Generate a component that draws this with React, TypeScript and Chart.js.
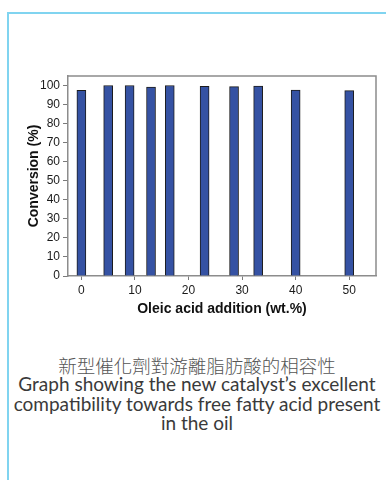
import React, { useEffect, useRef } from "react";
import { Chart, registerables } from "chart.js";

Chart.register(...registerables);

// Oleic acid addition (wt.%) for each run and the conversion it reached (%)
const oleicAcid = [0, 5, 9, 13, 16.5, 23, 28.5, 33, 40, 50];
const conversion = [97.5, 100, 100, 99.2, 100, 99.6, 99.4, 99.7, 97.6, 97.3];

const xTicks = [0, 10, 20, 30, 40, 50];
const yTicks = [0, 10, 20, 30, 40, 50, 60, 70, 80, 90, 100];

const xTitle = "Oleic acid addition (wt.%)";
const yTitle = "Conversion (%)";

const captionZh = "新型催化劑對游離脂肪酸的相容性";
const captionEn = [
  "Graph showing the new catalyst\u2019s excellent",
  "compatibility towards free fatty acid present",
  "in the oil",
];

const FONT = "'Liberation Sans', Arial, Helvetica, sans-serif";

// Closes the plot box with the top and right edges
const frame = {
  id: "plotFrame",
  afterDatasetsDraw(chart: any) {
    const { ctx, chartArea } = chart;
    ctx.save();
    ctx.strokeStyle = "#8c8c8c";
    ctx.lineWidth = 1.5;
    ctx.beginPath();
    ctx.moveTo(chartArea.left, chartArea.top);
    ctx.lineTo(chartArea.right, chartArea.top);
    ctx.lineTo(chartArea.right, chartArea.bottom);
    ctx.stroke();
    ctx.restore();
  },
};

function ConversionChart() {
  const canvasRef = useRef<HTMLCanvasElement | null>(null);

  useEffect(() => {
    const canvas = canvasRef.current;
    if (!canvas) return;
    const chart = new Chart(canvas, {
      type: "bar",
      data: {
        datasets: [
          {
            data: oleicAcid.map((x, i) => ({ x, y: conversion[i] })),
            backgroundColor: "#3552a3",
            borderColor: "#1c1c1c",
            borderWidth: 1,
            barThickness: 9,
          },
        ],
      },
      options: {
        responsive: false,
        animation: false,
        events: [],
        layout: { padding: { left: 20, top: 76, right: 10, bottom: 10 } },
        plugins: {
          legend: { display: false },
          tooltip: { enabled: false },
        },
        scales: {
          x: {
            type: "linear",
            min: -2.5,
            max: 55,
            offset: false,
            afterBuildTicks: (s: any) => {
              s.ticks = xTicks.map((v) => ({ value: v }));
            },
            afterFit: (s: any) => {
              s.height = 44;
            },
            grid: {
              offset: false,
              drawOnChartArea: false,
              drawTicks: true,
              tickLength: 4,
              color: "#7a7a7a",
              lineWidth: 1,
            },
            border: { display: true, color: "#8c8c8c", width: 1.5 },
            ticks: {
              color: "#1a1a1a",
              font: { family: FONT, size: 12 },
              padding: 3,
              maxRotation: 0,
            },
            title: {
              display: true,
              text: xTitle,
              color: "#111",
              font: { family: FONT, size: 14, weight: "bold" },
              padding: { top: 0, bottom: 2 },
            },
          },
          y: {
            type: "linear",
            min: 0,
            max: 105,
            afterBuildTicks: (s: any) => {
              s.ticks = yTicks.map((v) => ({ value: v }));
            },
            afterFit: (s: any) => {
              s.width = 48;
            },
            grid: {
              drawOnChartArea: false,
              drawTicks: true,
              tickLength: 5,
              color: "#7a7a7a",
              lineWidth: 1,
            },
            border: { display: true, color: "#8c8c8c", width: 1.5 },
            ticks: {
              color: "#1a1a1a",
              font: { family: FONT, size: 12 },
              padding: 3,
            },
            title: {
              display: true,
              text: yTitle,
              color: "#111",
              font: { family: FONT, size: 14, weight: "bold" },
              padding: { top: 6, bottom: 0 },
            },
          },
        },
      },
      plugins: [frame],
    } as any);
    return () => chart.destroy();
  }, []);

  return (
    <canvas
      ref={canvasRef}
      width={386}
      height={330}
      style={{ position: "absolute", left: 0, top: 0, width: 386, height: 330 }}
    />
  );
}

export default function App() {
  return (
    <div
      style={{
        position: "fixed",
        left: 0,
        top: 0,
        width: 386,
        height: 480,
        background: "#fff",
        overflow: "hidden",
      }}
    >
      {/* light blue panel edge along the top and left */}
      <div
        style={{
          position: "absolute",
          left: 7,
          top: 12,
          right: -4,
          bottom: -4,
          borderTop: "2px solid #80d4f0",
          borderLeft: "2px solid #80d4f0",
        }}
      />
      <ConversionChart />
      <div
        style={{
          position: "absolute",
          left: 8,
          width: 378,
          top: 355,
          textAlign: "center",
          fontFamily: "'Noto Sans CJK TC', sans-serif",
          fontSize: 18.5,
          lineHeight: "21px",
          color: "#555",
          fontWeight: 300,
        }}
      >
        {captionZh}
      </div>
      <div
        style={{
          position: "absolute",
          left: 8,
          width: 378,
          top: 374,
          textAlign: "center",
          fontFamily: "Lato, 'Open Sans', sans-serif",
          fontSize: 19,
          lineHeight: "19.5px",
          color: "#3a3a3a",
        }}
      >
        {captionEn.map((line) => (
          <div key={line} style={{ whiteSpace: "nowrap" }}>
            {line}
          </div>
        ))}
      </div>
    </div>
  );
}
